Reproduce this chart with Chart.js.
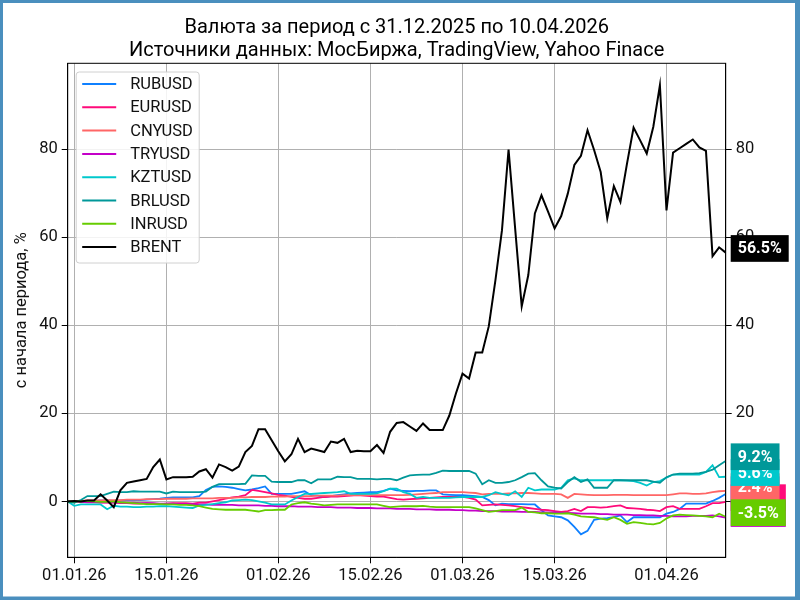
<!DOCTYPE html>
<html lang="ru">
<head>
  <meta charset="UTF-8">
  <title>Валюта за период</title>
  <script src="https://cdn.jsdelivr.net/npm/chart.js"></script>
  <style>
    html, body {
      margin: 0;
      padding: 0;
      background: #ffffff;
    }
    .chart-box {
      width: 800px;
      height: 600px;
    }
  </style>
</head>
<body>

  <div class="chart-box">
    <canvas id="fxChart" width="800" height="600"></canvas>
  </div>

  <script>
    const titleLines = [
      'Валюта за период с 31.12.2025 по 10.04.2026',
      'Источники данных: МосБиржа, TradingView, Yahoo Finace'
    ];
    const yAxisTitle = 'с начала периода, %';

    // one value per calendar day, 31.12.2025 ... 10.04.2026
    const periodStart = '31.12.2025';
    const periodEnd = '10.04.2026';

    const seriesNames = ['RUBUSD', 'EURUSD', 'CNYUSD', 'TRYUSD', 'KZTUSD', 'BRLUSD', 'INRUSD', 'BRENT'];

    const rubusd = [
      0, 0.0, 0.1, 0.0, 0.1, 0.2, 0.2, 0.1, 0.2, 0.3,
      0.3, 0.3, 0.4, 0.5, 0.6, 0.8, 0.9, 0.9, 0.9, 0.9,
      1.2, 2.6, 3.3, 3.4, 3.3, 3.1, 2.8, 2.5, 2.7, 3.0,
      3.4, 1.7, 1.7, 1.7, 1.7, 2.0, 2.3, 1.4, 1.3, 1.0,
      1.2, 1.4, 1.6, 1.8, 1.9, 2.0, 2.1, 2.1, 2.4, 2.9,
      2.5, 2.4, 2.3, 2.4, 2.4, 2.5, 2.5, 1.6, 1.5, 1.4,
      1.4, 1.3, 1.2, 1.0, 0.3, -0.9, -0.5, -0.6, -0.6, -0.6,
      -0.7, -0.7, -2.0, -3.2, -3.4, -3.6, -4.3, -5.8, -7.5, -6.7,
      -4.2, -3.9, -3.8, -3.6, -3.2, -4.7, -3.6, -3.6, -3.6, -3.6,
      -3.6, -2.8, -2.4, -1.7, -0.5, -0.5, -0.5, -0.5, 0.1, 0.8,
      1.7
    ];
    const eurusd = [
      0, 0.0, -0.1, -0.2, -0.2, -0.3, -0.2, -0.3, -0.4, -0.4,
      -0.5, -0.5, -0.4, -0.5, -0.6, -0.5, -0.4, -0.4, -0.4, -0.5,
      -0.3, -0.3, 0.0, 0.3, 0.6, 0.9, 1.1, 1.4, 2.6, 2.4,
      2.1, 1.8, 1.5, 1.3, 1.0, 0.8, 0.6, 0.6, 0.8, 1.0,
      1.1, 1.1, 1.2, 1.3, 1.4, 1.3, 1.2, 1.1, 1.1, 0.8,
      0.5, 0.4, 0.5, 0.6, 0.7, 0.8, 0.9, 1.0, 1.0, 1.0,
      1.0, 0.8, 0.4, -0.9, -0.8, -0.7, -0.8, -0.9, -1.1, -1.3,
      -1.5, -1.7, -1.9, -2.0, -2.2, -2.4, -2.2, -1.7, -2.2, -1.3,
      -1.3, -1.4, -1.3, -1.1, -0.9, -1.5, -1.6, -1.7, -1.9, -2.0,
      -2.2, -1.3, -1.1, -1.7, -1.7, -1.7, -1.7, -1.1, -0.4, -0.4,
      -0.1
    ];
    const cnyusd = [
      0, 0.1, 0.1, 0.2, 0.2, 0.2, 0.3, 0.3, 0.3, 0.4,
      0.4, 0.4, 0.5, 0.5, 0.5, 0.6, 0.6, 0.6, 0.6, 0.7,
      0.7, 0.7, 0.7, 0.8, 0.8, 0.8, 0.9, 0.9, 1.0, 1.0,
      1.0, 1.1, 1.1, 1.1, 1.2, 1.2, 1.2, 1.2, 1.3, 1.3,
      1.3, 1.3, 1.4, 1.4, 1.4, 1.4, 1.4, 1.4, 1.4, 1.4,
      1.4, 1.4, 1.5, 1.6, 1.7, 1.8, 1.9, 2.1, 2.1, 2.1,
      2.1, 2.0, 1.9, 1.6, 1.7, 1.7, 1.7, 1.8, 1.8, 1.9,
      1.9, 1.8, 1.7, 1.7, 1.7, 1.6, 0.8, 1.7, 1.6, 1.5,
      1.4, 1.4, 1.4, 1.5, 1.5, 1.5, 1.4, 1.4, 1.4, 1.4,
      1.4, 1.4, 1.6, 1.8, 1.8, 1.7, 1.7, 1.8, 2.1, 2.3,
      2.4
    ];
    const tryusd = [
      0, 0, -0.1, -0.1, -0.1, -0.2, -0.2, -0.2, -0.3, -0.3,
      -0.3, -0.4, -0.4, -0.4, -0.5, -0.5, -0.5, -0.6, -0.6, -0.6,
      -0.7, -0.7, -0.8, -0.8, -0.8, -0.8, -0.9, -0.9, -0.9, -0.9,
      -1.0, -1.0, -1.1, -1.1, -1.1, -1.2, -1.2, -1.2, -1.3, -1.3,
      -1.3, -1.4, -1.4, -1.4, -1.5, -1.5, -1.5, -1.6, -1.6, -1.6,
      -1.7, -1.7, -1.7, -1.8, -1.8, -1.8, -1.9, -1.9, -1.9, -2.0,
      -2.0, -2.1, -2.1, -2.2, -2.2, -2.2, -2.3, -2.3, -2.3, -2.4,
      -2.4, -2.4, -2.5, -2.5, -2.5, -2.6, -2.6, -2.7, -2.8, -2.8,
      -2.8, -2.9, -2.9, -3.0, -3.0, -3.0, -3.1, -3.1, -3.2, -3.2,
      -3.3, -3.3, -3.4, -3.4, -3.4, -3.3, -3.3, -3.3, -3.2, -3.4,
      -3.7
    ];
    const kztusd = [
      0, -1.0, -0.7, -0.7, -0.7, -0.7, -1.8, -1.0, -1.2, -1.2,
      -1.3, -1.3, -1.2, -1.2, -1.1, -1.1, -1.2, -1.3, -1.4, -1.5,
      -0.9, -0.8, -0.6, -0.4, -0.2, 0.2, 0.3, 0.4, 0.3, 0.0,
      -0.3, -0.7, -0.7, -0.7, 0.2, 1.0, 1.7, 1.7, 1.8, 1.9,
      2.0, 2.1, 2.3, 1.7, 1.7, 1.7, 1.7, 1.8, 2.3, 2.9,
      2.9, 2.1, 1.7, 0.8, 1.0, 0.8, 0.8, 0.8, 0.8, 0.9,
      1.0, 1.0, 1.0, 1.0, 1.4, 2.1, 1.7, 1.4, 2.3, 1.0,
      3.1, 2.5, 2.7, 2.7, 2.7, 3.1, 4.8, 5.2, 4.8, 4.8,
      4.8, 4.8, 4.8, 4.8, 4.8, 4.7, 4.6, 4.2, 3.6, 4.4,
      4.6, 5.4, 6.1, 6.1, 6.1, 6.1, 6.1, 6.7, 8.2, 5.5,
      5.6
    ];
    const brlusd = [
      0, -0.3, 0.3, 1.2, 1.2, 1.2, 1.7, 2.2, 2.1, 2.1,
      2.3, 2.2, 2.2, 2.2, 2.2, 1.8, 2.2, 2.1, 2.1, 2.1,
      2.1, 2.2, 3.3, 3.9, 3.9, 3.9, 3.9, 4.0, 5.9, 5.8,
      5.8, 4.5, 4.4, 4.4, 4.4, 4.8, 4.8, 4.1, 5.0, 5.0,
      5.0, 5.6, 5.5, 5.5, 5.1, 5.1, 5.1, 5.0, 5.1, 5.1,
      4.8, 5.4, 5.9, 6.0, 6.1, 6.1, 6.5, 7.0, 6.9, 6.9,
      6.9, 6.9, 6.3, 3.9, 4.8, 4.2, 4.2, 4.4, 4.8, 5.5,
      6.3, 6.4, 4.8, 3.4, 3.1, 2.9, 4.4, 5.5, 4.4, 5.0,
      3.1, 3.1, 3.1, 4.8, 4.8, 4.8, 4.8, 4.8, 4.8, 4.5,
      4.2, 5.5, 6.1, 6.3, 6.3, 6.3, 6.4, 6.7, 7.2, 8.2,
      9.2
    ];
    const inrusd = [
      0, 0, 0, 0.1, 0.0, -0.1, -0.1, 0.0, -0.2, -0.3,
      -0.4, -0.5, -0.6, -0.6, -0.6, -0.7, -0.7, -0.8, -0.8, -0.9,
      -1.1, -1.4, -1.7, -1.8, -1.9, -1.9, -1.9, -1.9, -2.1, -2.3,
      -2.0, -2.0, -1.9, -1.9, -0.7, -0.4, -0.2, -0.5, -0.7, -0.9,
      -0.8, -0.7, -0.7, -0.7, -0.7, -0.7, -0.7, -0.7, -1.0, -1.3,
      -1.2, -1.1, -1.1, -1.1, -1.0, -1.2, -1.3, -1.3, -1.3, -1.3,
      -1.3, -1.3, -1.6, -2.0, -2.4, -2.2, -2.0, -2.0, -2.0, -1.4,
      -2.4, -2.5, -2.7, -2.7, -2.8, -2.8, -2.7, -3.0, -3.4, -3.5,
      -3.6, -3.9, -4.2, -3.6, -4.2, -5.1, -4.7, -4.9, -5.1, -5.2,
      -4.9, -3.9, -3.2, -3.0, -3.1, -3.2, -3.3, -3.4, -3.6, -2.8,
      -3.5
    ];
    const brent = [
      0, 0.1, 0.0, 0.2, 0.2, 1.6, 0.2, -1.3, 2.5, 4.2,
      4.5, 4.8, 5.1, 7.8, 9.5, 5.0, 5.5, 5.5, 5.5, 5.6,
      6.8, 7.3, 5.4, 8.4, 7.8, 7.0, 7.9, 11.2, 12.6, 16.4,
      16.4, 13.9, 11.4, 9.1, 10.7, 14.2, 11.2, 12.0, 11.6, 11.2,
      13.6, 13.3, 14.2, 11.2, 11.5, 11.4, 11.4, 12.8, 11.0, 15.8,
      17.8, 18.0, 17.0, 16.0, 17.7, 16.2, 16.2, 16.2, 19.5, 24.5,
      29.0, 27.9, 33.8, 33.8, 39.8, 50.2, 61.6, 79.9, 62.0, 44.3,
      51.4, 65.4, 69.5, 65.8, 62.0, 64.8, 69.9, 76.4, 78.5, 84.3,
      79.8, 74.8, 64.3, 71.6, 68.0, 76.7, 84.9, 82.0, 79.0, 85.1,
      94.5, 66.1, 79.2, 80.2, 81.2, 82.2, 80.4, 79.6, 55.7, 57.7,
      56.5
    ];

    const xTickLabels = ['01.01.26', '15.01.26', '01.02.26', '15.02.26', '01.03.26', '15.03.26', '01.04.26'];
    const yTickValues = [0, 20, 40, 60, 80];
    const yMin = -12.7;
    const yMax = 99.5;

    const seriesColors = ['#0f80ff', '#ff0a7a', '#ff6666', '#c400c8', '#00c8cc', '#009899', '#66cc00', '#000000'];
    const allSeries = [rubusd, eurusd, cnyusd, tryusd, kztusd, brlusd, inrusd, brent];

    // days counted from 01.01.2026, accepts dd.mm.yy and dd.mm.yyyy
    function dayOf(s) {
      const [d, m, y] = s.split('.').map(Number);
      const year = y < 100 ? 2000 + y : y;
      return Math.round((Date.UTC(year, m - 1, d) - Date.UTC(2026, 0, 1)) / 86400000);
    }

    const firstDay = dayOf(periodStart);
    const lastDay = dayOf(periodEnd);
    const xTickValues = xTickLabels.map(dayOf);

    const font = 'Roboto';

    const decorPlugin = {
      id: 'decor',
      beforeDraw(chart) {
        const {ctx, width, height} = chart;
        ctx.save();
        ctx.fillStyle = '#4a8fbe';
        ctx.fillRect(0, 0, width, height);
        ctx.fillStyle = '#ffffff';
        ctx.fillRect(3, 3, width - 8, height - 6.5);
        ctx.restore();
      },
      afterDraw(chart) {
        const {ctx, chartArea: a} = chart;
        const yScale = chart.scales.y;
        ctx.save();

        // title
        ctx.fillStyle = '#000';
        ctx.font = '20px ' + font;
        ctx.textAlign = 'center';
        ctx.textBaseline = 'alphabetic';
        const cx = (a.left + a.right) / 2;
        titleLines.forEach((t, i) => ctx.fillText(t, cx, 33.3 + i * 22.3));

        // top spine + full frame
        ctx.strokeStyle = '#000';
        ctx.lineWidth = 1;
        ctx.strokeRect(a.left, a.top, a.right - a.left, a.bottom - a.top);

        // legend
        const lx = a.left + 8.5, ly = a.top + 8.7;
        ctx.fillStyle = 'rgba(255,255,255,0.85)';
        ctx.strokeStyle = '#d0d0d0';
        ctx.beginPath();
        ctx.roundRect(lx, ly, 123, 191, 3);
        ctx.fill();
        ctx.stroke();
        ctx.font = '16.5px ' + font;
        ctx.textAlign = 'left';
        ctx.textBaseline = 'middle';
        seriesNames.forEach((name, i) => {
          const ry = ly + 12 + i * 23.3;
          ctx.strokeStyle = seriesColors[i];
          ctx.lineWidth = 2;
          ctx.beginPath();
          ctx.moveTo(lx + 6, ry);
          ctx.lineTo(lx + 40, ry);
          ctx.stroke();
          ctx.fillStyle = '#111';
          ctx.fillText(name, lx + 54, ry + 1);
        });

        // last-value tags on the right
        ctx.font = 'bold 16px ' + font;
        allSeries.forEach((vals, i) => {
          const v = vals[vals.length - 1];
          const txt = v.toFixed(1) + '%';
          const py = yScale.getPixelForValue(v) - 4.2;
          const w = ctx.measureText(txt).width + 14;
          const bx = a.right + 5;
          ctx.fillStyle = seriesColors[i];
          ctx.fillRect(bx, py - 13.3, w, 26.7);
          ctx.fillStyle = '#ffffff';
          ctx.fillText(txt, bx + 7, py + 1);
        });

        ctx.restore();
      }
    };

    const datasets = allSeries.map((vals, i) => ({
      label: seriesNames[i],
      data: vals.map((v, k) => ({x: firstDay + k, y: v})),
      borderColor: seriesColors[i],
      backgroundColor: seriesColors[i],
      borderWidth: i === allSeries.length - 1 ? 2 : 1.8,
      pointRadius: 0,
      tension: 0,
      fill: false,
      order: allSeries.length - i
    }));

    const tickFont = { family: font, size: 16.5 };

    const ctx = document.getElementById('fxChart').getContext('2d');
    const fxChart = new Chart(ctx, {
      type: 'line',
      data: { datasets },
      plugins: [decorPlugin],
      options: {
        responsive: false,
        animation: false,
        layout: { padding: { top: 63.3, left: 0, right: 0, bottom: 0 } },
        plugins: {
          legend: { display: false },
          tooltip: { enabled: false }
        },
        scales: {
          x: {
            type: 'linear',
            min: firstDay,
            max: lastDay,
            afterBuildTicks: (s) => { s.ticks = xTickValues.map(v => ({value: v})); },
            afterFit: (s) => { s.height = 42.7; },
            ticks: {
              autoSkip: false,
              maxRotation: 0,
              padding: 3,
              color: '#111',
              font: tickFont,
              callback: (v) => xTickLabels[xTickValues.indexOf(v)]
            },
            grid: { color: '#b0b0b0', lineWidth: 1, tickLength: 6, tickColor: '#000' },
            border: { color: '#000', width: 1 }
          },
          y: {
            type: 'linear',
            position: 'left',
            min: yMin,
            max: yMax,
            afterBuildTicks: (s) => { s.ticks = yTickValues.map(v => ({value: v})); },
            afterFit: (s) => { s.width = 67.7; },
            ticks: { padding: 4, color: '#111', font: tickFont },
            grid: { color: '#b0b0b0', lineWidth: 1, tickLength: 6, tickColor: '#000' },
            border: { color: '#000', width: 1 },
            title: {
              display: true,
              text: yAxisTitle,
              color: '#111',
              font: { family: font, size: 16.5 },
              padding: { top: 12, bottom: 0 }
            }
          },
          y2: {
            type: 'linear',
            position: 'right',
            min: yMin,
            max: yMax,
            afterBuildTicks: (s) => { s.ticks = yTickValues.map(v => ({value: v})); },
            afterFit: (s) => { s.width = 74.3; },
            ticks: { padding: 4, color: '#111', font: tickFont },
            grid: { drawOnChartArea: false, tickLength: 6, tickColor: '#000' },
            border: { color: '#000', width: 1 }
          }
        }
      }
    });
  </script>

</body>
</html>
